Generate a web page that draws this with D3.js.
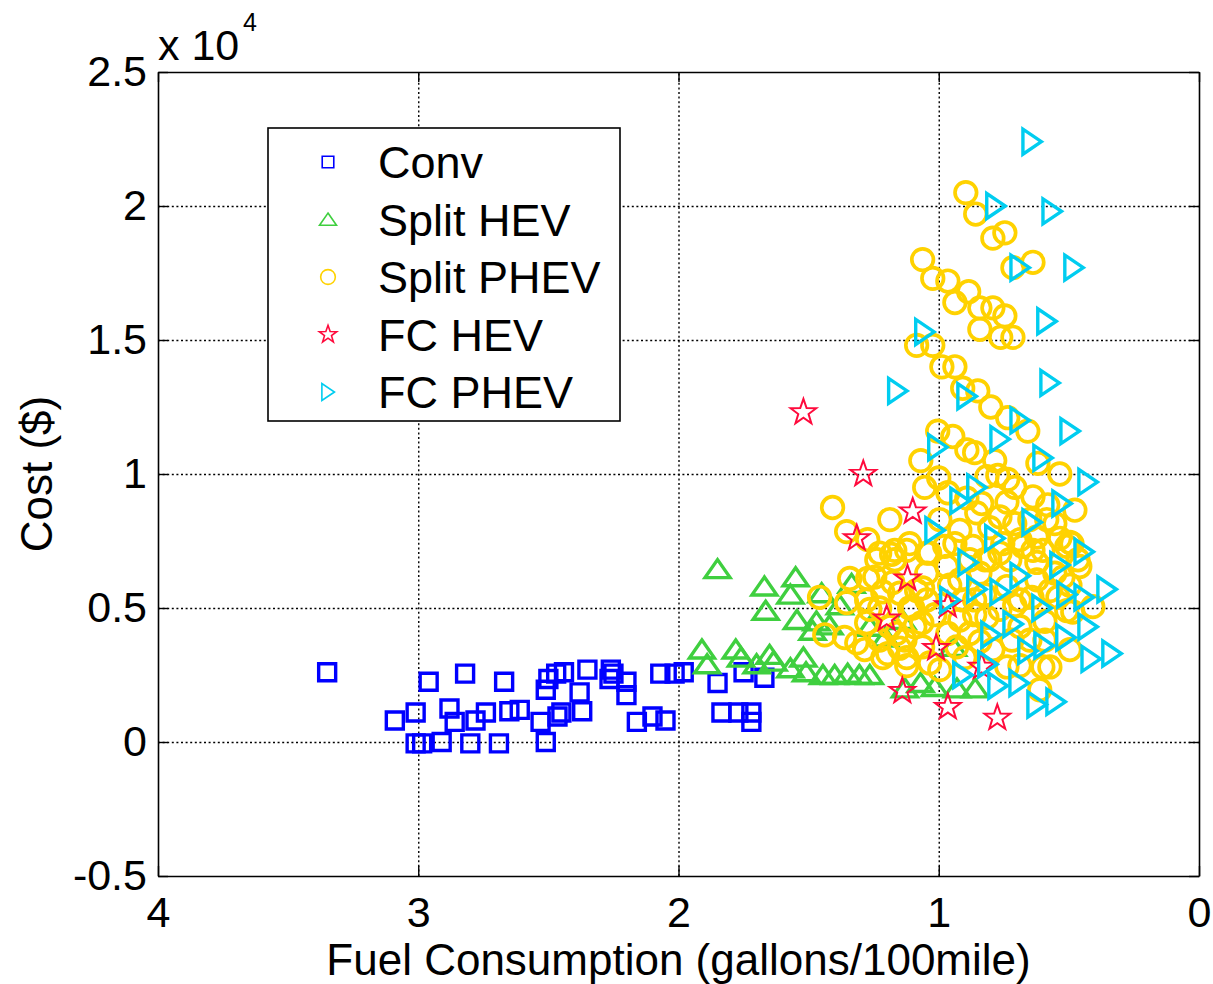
<!DOCTYPE html>
<html>
<head>
<meta charset="utf-8">
<script src="https://cdn.jsdelivr.net/npm/d3@7"></script>
<style>
  html, body { margin: 0; padding: 0; background: #fff; }
  svg { display: block; }
  text { font-family: "Liberation Sans", Arial, Helvetica, sans-serif; fill: #000; }
</style>
</head>
<body>
<script>
// Fuel consumption (gallons/100mile) vs. cost ($) for each powertrain.
const convPoints = [
  [3.35,2600],[2.96,2250],[2.82,2550],[2.67,2250],[3.09,800],[3.01,1100],[3.01,-50],[2.985,-50],
  [2.91,0],[2.88,1250],[2.86,750],[2.80,-50],[2.78,800],[2.74,1100],[2.69,-50],[2.65,1150],
  [2.61,1200],[2.53,750],[2.51,0],[2.51,1950],[2.50,2350],[2.47,2550],[2.44,2600],[2.465,950],
  [2.45,1100],[2.38,1850],[2.37,1150],[2.35,2700],[2.26,2700],[2.265,2350],[2.25,2550],[2.20,2250],
  [2.20,1750],[2.16,750],[2.10,950],[2.05,800],[2.07,2550],[2.015,2550],[1.98,2600],[1.85,2200],
  [1.835,1100],[1.77,1100],[1.72,1100],[1.72,750],[1.75,2600],[1.67,2400]
];

const splitHevPoints = [
  [1.85,6450],[1.67,5800],[1.55,6150],[1.57,5500],[1.665,4900],[1.545,4550],[1.47,4500],[1.485,4150],
  [1.335,5900],[1.38,5100],[1.42,4350],[1.265,4300],[1.14,4550],[1.91,3450],[1.89,2900],[1.78,3450],
  [1.76,3150],[1.65,3250],[1.70,2900],[1.635,3000],[1.57,2750],[1.52,3150],[1.51,2600],[1.445,2500],
  [1.40,2500],[1.35,2550],[1.305,2500],[1.265,2500],[1.13,2000],[1.07,2200],[1.015,2050],[0.93,2000],
  [0.86,2000],[0.945,3550],[1.205,3900],[1.45,5550]
];

const splitPhevPoints = [
  [0.896,20500],[0.858,19700],[0.746,19000],[0.792,18800],[1.062,18000],[0.638,17900],[0.715,17700],
  [1.023,17300],[0.965,17200],[0.885,16800],[0.938,16400],[0.842,16200],[0.792,16200],[0.746,15900],
  [0.842,15400],[0.762,15100],[0.715,15100],[1.085,14800],[1.023,14800],[0.988,14000],[0.938,14000],
  [0.908,13200],[0.85,13100],[0.80,12500],[0.735,12100],[0.658,11600],[1.004,11600],[0.946,11400],
  [0.892,10900],[0.862,10800],[0.785,10500],[1.069,10500],[0.619,10400],[0.535,10000],[1.0,9850],
  [1.054,9500],[0.965,9300],[0.815,9900],[0.773,9950],[0.735,9800],[0.708,9500],[0.892,9100],
  [0.835,8900],[0.738,8950],[0.638,9150],[0.581,8850],[0.585,8300],[0.854,8550],[0.765,8400],
  [0.708,8150],[0.804,8000],[0.938,7400],[1.112,7400],[0.869,7300],[0.754,7400],[0.688,7550],
  [0.623,7650],[0.535,7600],[0.488,7400],[1.035,7050],[0.638,7150],[1.408,8750],[1.354,7850],
  [1.188,8300],[1.273,7550],[1.227,7050],[1.169,7150],[1.342,6100],[1.246,6150],[1.458,5400],
  [1.273,6100],[1.354,5200],[1.277,5300],[1.215,5600],[1.15,5550],[1.085,5650],[1.046,6300],
  [1.227,5000],[1.112,5000],[1.046,5300],[1.438,4000],[1.362,3900],[1.315,3700],[1.285,3450],
  [1.227,3800],[1.215,3150],[1.15,3500],[1.123,2850],[1.092,4300],[1.062,3550],[1.277,4450],
  [1.188,4300],[1.238,6800],[1.169,6800],[0.969,6550],[0.958,5850],[1.181,7000],[1.123,7150],
  [1.046,7050],[0.977,7300],[1.177,5950],[1.062,5750],[1.1,5000],[1.065,4450],[1.162,4050],
  [1.196,3300],[1.123,3150],[1.035,2950],[0.931,3550],[0.9,3150],[0.965,4050],[0.842,6300],
  [0.804,6800],[0.765,7050],[0.677,7300],[0.6,7150],[0.508,7300],[0.408,5050],[0.485,4850],
  [0.592,4500],[0.688,4300],[0.719,3800],[0.792,3450],[0.738,2800],[0.688,2850],[0.6,2800],
  [0.842,3750],[0.881,4050],[0.815,4650],[0.738,5800],[0.642,5400],[0.623,6050],[0.554,6300],
  [0.458,6550],[0.623,6700],[0.554,8150],[0.496,7450],[0.465,6800],[0.523,6150],[0.542,5400],
  [0.508,4900],[0.573,2800],[0.908,5300],[0.862,4750],[0.919,6050],[0.823,5500],[0.881,6800],
  [0.708,5100],[0.65,3800],[1.265,4950],[1.015,4750],[0.919,4550],[0.862,5300],[0.765,4950],
  [0.688,5300],[0.573,5650],[0.496,5850],[0.592,3800],[0.496,3450],[0.65,8300],[0.477,8650],
  [0.996,8300],[0.919,7900],[0.823,6800],[0.727,6800],[1.13,3800],[0.996,2700],[0.612,1950]
];

const fcHevPoints = [
  [1.52,12300],[1.29,10000],[1.10,8600],[1.315,7600],[1.12,6100],[1.20,4600],[0.965,5100],
  [1.01,3500],[0.835,2800],[1.14,1900],[0.965,1300],[0.775,900]
];

const fcPhevPoints = [
  [0.642,22400],[0.781,20000],[0.565,19800],[0.688,17700],[0.481,17700],[0.585,15700],[1.054,15300],
  [0.573,13400],[1.158,13100],[0.892,12900],[0.688,12000],[0.496,11600],[0.765,11300],[1.004,11000],
  [0.60,10600],[0.427,9700],[0.854,9500],[0.919,9000],[0.527,8900],[0.642,8200],[1.015,7900],
  [0.785,7600],[0.888,6700],[0.688,6200],[0.535,6600],[0.442,7100],[0.958,5300],[0.854,5700],
  [0.765,5600],[0.604,5000],[0.508,5500],[0.442,5400],[0.354,5700],[0.80,4000],[0.715,4400],
  [0.658,3400],[0.596,3600],[0.512,3900],[0.427,4300],[0.415,3100],[0.335,3300],[0.812,2900],
  [0.908,2500],[0.773,2100],[0.692,2200],[0.623,1400],[0.55,1500]
];

const seriesNames = ["Conv", "Split HEV", "Split PHEV", "FC HEV", "FC PHEV"];
const seriesColors = ["#0000ff", "#3fcf3f", "#ffd200", "#ff0a3c", "#00cdf0"];
const xTickValues = [4, 3, 2, 1, 0];
const yTickValues = [-5000, 0, 5000, 10000, 15000, 20000, 25000];
const yTickLabels = ["-0.5", "0", "0.5", "1", "1.5", "2", "2.5"];

const W = 1213, H = 984;
const plot = { left: 158, top: 72, right: 1199, bottom: 876 };

const svg = d3.select("body").append("svg").attr("width", W).attr("height", H);

const x = d3.scaleLinear().domain([4, 0]).range([plot.left, plot.right]);
const y = d3.scaleLinear().domain([-5000, 25000]).range([plot.bottom, plot.top]);

// dotted grid
const grid = svg.append("g").attr("class", "grid");
grid.append("g")
  .attr("transform", `translate(0,${plot.bottom})`)
  .call(d3.axisBottom(x).tickValues(xTickValues.slice(1, -1))
    .tickSize(-(plot.bottom - plot.top)).tickFormat(""))
  .call(g => g.select(".domain").remove());
grid.append("g")
  .attr("transform", `translate(${plot.left},0)`)
  .call(d3.axisLeft(y).tickValues(yTickValues.slice(1, -1))
    .tickSize(-(plot.right - plot.left)).tickFormat(""))
  .call(g => g.select(".domain").remove());
grid.selectAll("line")
  .attr("stroke", "#000").attr("stroke-width", 1.4).attr("stroke-dasharray", "2,2.6");

// marker shapes
function markerPath(kind, s) {
  const p = d3.path();
  if (kind === "square") {
    p.rect(-8.5 * s, -8.5 * s, 17 * s, 17 * s);
  } else if (kind === "circle") {
    p.arc(0, 0, 10.8 * s, 0, 2 * Math.PI);
  } else if (kind === "triUp") {
    p.moveTo(0, -9.5 * s); p.lineTo(12.5 * s, 8.5 * s); p.lineTo(-12.5 * s, 8.5 * s); p.closePath();
  } else if (kind === "triRight") {
    p.moveTo(9.5 * s, 0); p.lineTo(-9 * s, 12.5 * s); p.lineTo(-9 * s, -12.5 * s); p.closePath();
  } else if (kind === "star") {
    const R = 13.5 * s, r = R * 0.4;
    for (let i = 0; i < 10; i++) {
      const a = -Math.PI / 2 + i * Math.PI / 5;
      const rr = i % 2 === 0 ? R : r;
      if (i === 0) p.moveTo(rr * Math.cos(a), rr * Math.sin(a));
      else p.lineTo(rr * Math.cos(a), rr * Math.sin(a));
    }
    p.closePath();
  }
  return p.toString();
}

const seriesDefs = [
  { data: convPoints, kind: "square", width: 3.4 },
  { data: splitHevPoints, kind: "triUp", width: 3.4 },
  { data: splitPhevPoints, kind: "circle", width: 3.7 },
  { data: fcHevPoints, kind: "star", width: 2.0 },
  { data: fcPhevPoints, kind: "triRight", width: 3.4 }
];

const marks = svg.append("g").attr("class", "marks");
seriesDefs.forEach((s, i) => {
  marks.append("g")
    .selectAll("path")
    .data(s.data)
    .join("path")
    .attr("d", markerPath(s.kind, 1))
    .attr("transform", d => `translate(${x(d[0])},${y(d[1])})`)
    .attr("fill", "none")
    .attr("stroke", seriesColors[i])
    .attr("stroke-width", s.width)
    .attr("stroke-linejoin", "miter");
});

// axes with inward ticks on all four sides
const tickLen = 10;
const axB = svg.append("g").attr("transform", `translate(0,${plot.bottom})`)
  .call(d3.axisBottom(x).tickValues(xTickValues).tickSizeInner(-tickLen).tickSizeOuter(0)
    .tickPadding(20).tickFormat(d3.format("d")));
const axT = svg.append("g").attr("transform", `translate(0,${plot.top})`)
  .call(d3.axisTop(x).tickValues(xTickValues).tickSizeInner(-tickLen).tickSizeOuter(0).tickFormat(""));
const axL = svg.append("g").attr("transform", `translate(${plot.left},0)`)
  .call(d3.axisLeft(y).tickValues(yTickValues).tickSizeInner(-tickLen).tickSizeOuter(0)
    .tickPadding(11).tickFormat((d, i) => yTickLabels[i]));
const axR = svg.append("g").attr("transform", `translate(${plot.right},0)`)
  .call(d3.axisRight(y).tickValues(yTickValues).tickSizeInner(-tickLen).tickSizeOuter(0).tickFormat(""));

[axB, axT, axL, axR].forEach(g => {
  g.select(".domain").attr("stroke", "#000").attr("stroke-width", 1.6);
  g.selectAll(".tick line").attr("stroke", "#000").attr("stroke-width", 1.4);
  g.selectAll("text").style("font-size", "43px").attr("fill", "#000")
    .style("font-family", '"Liberation Sans", Arial, sans-serif');
});

// exponent label
svg.append("text").attr("x", 158).attr("y", 60).style("font-size", "43px").text("x 10");
svg.append("text").attr("x", 243).attr("y", 31).style("font-size", "25px").text("4");

// axis titles
svg.append("text")
  .attr("x", (plot.left + plot.right) / 2).attr("y", 975)
  .attr("text-anchor", "middle").style("font-size", "44px")
  .text("Fuel Consumption (gallons/100mile)");
svg.append("text")
  .attr("transform", `translate(52,${(plot.top + plot.bottom) / 2}) rotate(-90)`)
  .attr("text-anchor", "middle").style("font-size", "44px")
  .text("Cost ($)");

// legend
const legend = svg.append("g").attr("class", "legend");
legend.append("rect")
  .attr("x", 268).attr("y", 128).attr("width", 352).attr("height", 293)
  .attr("fill", "#fff").attr("stroke", "#000").attr("stroke-width", 1.6);
const rowY = d3.scalePoint().domain(seriesNames).range([162, 392]);
seriesNames.forEach((name, i) => {
  const cy = rowY(name);
  legend.append("path")
    .attr("d", markerPath(seriesDefs[i].kind, 0.68))
    .attr("transform", `translate(328,${cy})`)
    .attr("fill", "none").attr("stroke", seriesColors[i]).attr("stroke-width", 1.6);
  legend.append("text")
    .attr("x", 378).attr("y", cy + 16)
    .style("font-size", "45px")
    .text(name);
});
</script>
</body>
</html>
